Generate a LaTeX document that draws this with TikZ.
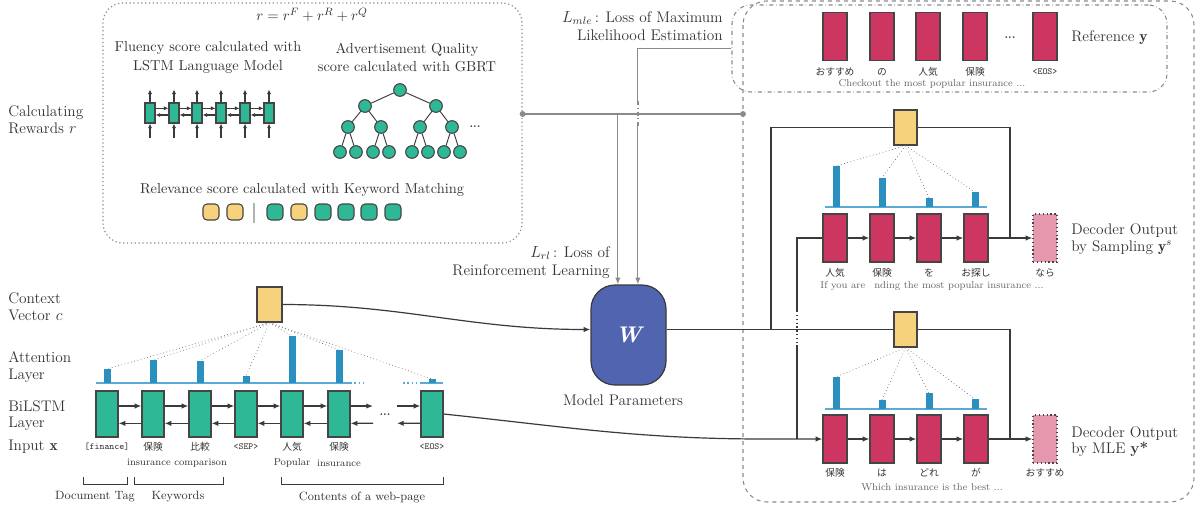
\documentclass[tikz,border=0pt]{standalone}
\usepackage{fontspec}
\usepackage{amsmath,amssymb}
\newfontfamily\jpfam{Noto Sans CJK JP}
\usetikzlibrary{arrows.meta,calc}
\definecolor{encgreen}{HTML}{2EB895}
\definecolor{cellborder}{HTML}{454545}
\definecolor{ybox}{HTML}{F6D27C}
\definecolor{crimson}{HTML}{CD3660}
\definecolor{pinkout}{HTML}{E597AD}
\definecolor{barblue}{HTML}{2A90C0}
\definecolor{baseblue}{HTML}{5AAAD6}
\definecolor{wblue}{HTML}{5064AF}
\definecolor{conncol}{HTML}{3A3A3A}
\definecolor{linegray}{HTML}{8A8A8A}
\definecolor{txtdark}{HTML}{333333}
\definecolor{txtgray}{HTML}{666666}
\newcommand\labfont{\fontsize{11.5}{12.5}\selectfont}
\newcommand\rwfont{\fontsize{10.8}{14}\selectfont}
\newcommand\smfont{\fontsize{7.5}{9}\selectfont}
\newcommand\jpfont{\jpfam\fontsize{7.3}{9}\selectfont}
\newcommand\ttsm{\ttfamily\fontsize{7}{8}\selectfont}
\newcommand\brfont{\fontsize{9}{10}\selectfont}
\begin{document}
\begin{tikzpicture}[x=0.75pt,y=-0.75pt,
  lab/.style={font=\labfont, text=txtdark, align=left, anchor=west, inner sep=0},
  rw/.style={font=\rwfont, text=txtdark, align=center, inner sep=0},
  sm/.style={font=\smfont, text=txtdark, inner sep=0},
  tr/.style={font=\smfont, text=txtgray, inner sep=0},
  jp/.style={font=\jpfont, text=txtdark, inner sep=0},
  tt/.style={font=\ttsm, text=txtdark, inner sep=0},
  br/.style={font=\brfont, text=txtdark, inner sep=0},
  enc/.style={draw=cellborder, fill=encgreen, line width=0.9pt, minimum width=16.5pt, minimum height=34.5pt, inner sep=0},
  lm/.style={draw=cellborder, fill=encgreen, line width=0.8pt, minimum width=7.5pt, minimum height=15pt, inner sep=0},
  dec/.style={draw=cellborder, fill=crimson, line width=0.9pt, minimum width=18pt, minimum height=36pt, inner sep=0},
  outbox/.style={draw=cellborder, fill=pinkout, dotted, line width=0.9pt, minimum width=18pt, minimum height=36pt, inner sep=0},
  ctx/.style={draw=cellborder, fill=ybox, line width=0.9pt, minimum width=17.25pt, minimum height=26.25pt, inner sep=0},
  tn/.style={circle, draw=cellborder, fill=encgreen, line width=0.8pt, minimum size=9.5pt, inner sep=0},
  kw/.style={draw=cellborder, line width=0.8pt, rounded corners=3pt, minimum size=12pt, inner sep=0},
  bar/.style={fill=barblue, inner sep=0, outer sep=0, minimum width=5.25pt, anchor=south},
  baseln/.style={draw=baseblue, line width=1.2pt},
  attn/.style={draw=black!60, dotted, line width=0.5pt},
  conn/.style={draw=conncol, line width=0.9pt},
  arr/.style={conn, -{Latex[length=5pt,width=4pt]}},
  smarr/.style={draw=conncol, line width=0.8pt, -{Latex[length=3.5pt,width=3.2pt]}},
  gline/.style={draw=linegray, line width=0.9pt},
  garr/.style={gline, -{Latex[length=5pt,width=4pt]}},
  dots/.style={font=\bfseries\fontsize{8}{8}\selectfont, text=txtdark, inner sep=0}
]
\useasboundingbox (0,0) rectangle (1199,508);

% ---------------- Rewards box ----------------
\node[draw=linegray, dotted, line width=0.9pt, rounded corners=15pt, minimum width=314.25pt, minimum height=180pt, inner sep=0] (rew) at (312.5,123) {};
\node[rw] at (312,15) {$r = r^{F} + r^{R} + r^{Q}$};
\node[rw] (flu) at (208,57.5) {Fluency score calculated with\\LSTM Language Model};
\node[rw] (adv) at (407,57.5) {Advertisement Quality\\score calculated with GBRT};
\node[rw] (rel) at (302,190) {Relevance score calculated with Keyword Matching};

% LSTM LM
\foreach \i/\x in {1/150,2/174,3/197,4/221,5/245,6/269}{
  \node[lm] (L\i) at (\x,113) {};
  \draw[smarr] (L\i.north) -- ++(0,-13);
  \draw[smarr] ($(L\i.south)+(0,14)$) -- (L\i.south);
}
\foreach \i/\j in {1/2,2/3,3/4,4/5,5/6}{
  \draw[smarr] ([yshift=3.5pt]L\i.east) -- ([yshift=3.5pt]L\j.west);
  \draw[smarr] ([yshift=-1.5pt]L\j.west) -- ([yshift=-1.5pt]L\i.east);
}

% GBRT tree
\node[tn] (t0) at (400,90) {};
\node[tn] (t1) at (365,106) {};
\node[tn] (t2) at (436,106) {};
\node[tn] (t3) at (348,127) {};
\node[tn] (t4) at (381,127) {};
\node[tn] (t5) at (420,127) {};
\node[tn] (t6) at (452,127) {};
\foreach \i/\x in {7/340,8/356,9/373,10/389,11/412,12/428,13/444,14/460}{
  \node[tn] (t\i) at (\x,152) {};
}
\foreach \a/\b in {0/1,0/2,1/3,1/4,2/5,2/6,3/7,3/8,4/9,4/10,5/11,5/12,6/13,6/14}{
  \draw[draw=conncol, line width=0.7pt] (t\a) -- (t\b);
}
\node[dots] (tdots) at (475,127) {...};

% keyword boxes
\foreach \n/\x/\c in {1/211/ybox,2/235/ybox,3/275/encgreen,4/299/ybox,5/323/encgreen,6/346/encgreen,7/369/encgreen,8/393/encgreen}{
  \node[kw, fill=\c] (k\n) at (\x,212) {};
}
\coordinate (sepT) at (254,203);
\coordinate (sepB) at (254,223);
\draw[draw=black!30, line width=0.8pt] (sepT) -- (sepB);

% ---------------- Left labels ----------------
\node[lab] (lcr) at (8,120) {Calculating\\Rewards $r$};
\node[lab] (lcv) at (8,307) {Context\\Vector $c$};
\node[lab] (lat) at (8,367) {Attention\\Layer};
\node[lab] (lbi) at (8,415.5) {BiLSTM\\Layer};
\node[lab] (lin) at (8,447) {Input $\mathbf{x}$};

% ---------------- Encoder ----------------
\foreach \i/\x in {1/107,2/153,3/200,4/246,5/292,6/339,7/432}{
  \node[enc] (e\i) at (\x,414) {};
}
\foreach \i/\j in {1/2,2/3,3/4,4/5,5/6}{
  \draw[arr] ([yshift=6pt]e\i.east) -- ([yshift=6pt]e\j.west);
  \draw[arr] ([yshift=-7pt]e\j.west) -- ([yshift=-7pt]e\i.east);
}
\coordinate (d1) at (373,406);
\coordinate (d1b) at (373,423.3);
\coordinate (d2) at (397,406);
\coordinate (d2b) at (397,423.3);
\draw[arr] ([yshift=6pt]e6.east) -- (d1);
\draw[arr] (d1b) -- ([yshift=-7pt]e6.east);
\draw[arr] (d2) -- ([yshift=6pt]e7.west);
\draw[arr] ([yshift=-7pt]e7.west) -- (d2b);
\node[dots] (edots) at (385,415) {...};

% attention bars encoder
\draw[baseln] (96,383) -- (350,383);
\draw[baseln, dotted] (350,383) -- (367,383);
\draw[baseln, dotted] (403,383) -- (420,383);
\draw[baseln] (420,383) -- (443,383);
\node[bar, minimum height=10.5pt] (a1) at (107,383) {};
\node[bar, minimum height=17.25pt] (a2) at (153,383) {};
\node[bar, minimum height=16.5pt] (a3) at (200,383) {};
\node[bar, minimum height=5.25pt] (a4) at (246,383) {};
\node[bar, minimum height=35.25pt] (a5) at (292,383) {};
\node[bar, minimum height=24.75pt] (a6) at (339,383) {};
\node[bar, minimum height=3pt] (a7) at (432,383) {};

\node[ctx, minimum width=18.75pt] (cv) at (269.5,304.5) {};
\foreach \i in {1,...,7}{ \draw[attn] (cv.south) -- (a\i.north); }

% input labels
\node[tt] at (107,447) {[finance]};
\node[jp] at (153,447) {保険};
\node[jp] at (200,447) {比較};
\node[tt] at (246,447) {<SEP>};
\node[jp] at (292,447) {人気};
\node[jp] at (339,447) {保険};
\node[tt] at (432,447) {<EOS>};
\node[sm] at (177,463) {insurance comparison};
\node[sm] at (292,463) {Popular};
\node[sm] at (339,463) {insurance};

% brackets
\draw[draw=conncol, line width=0.7pt] (83,477) -- (83,484) -- (127,484) -- (127,477);
\draw[draw=conncol, line width=0.7pt] (134,477) -- (134,484) -- (223,484) -- (223,477);
\draw[draw=conncol, line width=0.7pt] (281,477) -- (281,484) -- (443,484) -- (443,477);
\node[br] at (95,497) {Document Tag};
\node[br] at (178,497) {Keywords};
\node[br] at (362,497) {Contents of a web-page};

% ---------------- Model parameters ----------------
\node[draw=conncol, fill=wblue, line width=0.9pt, rounded corners=18pt, minimum width=56.25pt, minimum height=75pt, inner sep=0,
  font=\bfseries\itshape\fontsize{17}{17}\selectfont, text=white] (W) at (628.5,335) {W};
\node[font=\labfont, text=txtdark, inner sep=0] (mp) at (623,400) {Model Parameters};

% ---------------- Right dashed box ----------------
\draw[draw=linegray, dashed, line width=0.8pt, rounded corners=18pt] (743,1) rectangle (1194,502);

% reference
\node[draw=linegray, dash dot, line width=0.8pt, rounded corners=14pt, minimum width=326.25pt, minimum height=65.25pt, inner sep=0] (ref) at (949.5,48.5) {};
\foreach \i/\x in {1/835,2/882,3/928,4/975,5/1045}{
  \node[dec] (r\i) at (\x,36.5) {};
}
\node[dots] (rdots) at (1010,38) {...};
\node[jp] at (835,72) {おすすめ};
\node[jp] at (882,72) {の};
\node[jp] at (928,72) {人気};
\node[jp] at (975,72) {保険};
\node[tt] at (1045,72) {<EOS>};
\node[tr] at (932,84) {Checkout the most popular insurance ...};
\node[lab] (lref) at (1071,38) {Reference $\mathbf{y}$};

% sampling decoder
\node[ctx] (sy) at (905.5,127.5) {};
\draw[baseln] (825,207) -- (987,207);
\node[bar, minimum height=30.75pt] (sb1) at (836,207) {};
\node[bar, minimum height=21.75pt] (sb2) at (882,207) {};
\node[bar, minimum height=6.75pt] (sb3) at (929,207) {};
\node[bar, minimum height=11.25pt] (sb4) at (975,207) {};
\foreach \i in {1,...,4}{ \draw[attn] (sy.south) -- (sb\i.north); }
\foreach \i/\x in {1/835,2/882,3/929,4/976}{
  \node[dec] (s\i) at (\x,238) {};
}
\node[outbox] (so) at (1045,238) {};
\foreach \i/\j in {1/2,2/3,3/4}{ \draw[arr] (s\i) -- (s\j); }
\draw[arr] (s4) -- (so);
\node[jp] at (835,273) {人気};
\node[jp] at (882,273) {保険};
\node[jp] at (929,273) {を};
\node[jp] at (976,273) {お探し};
\node[jp] at (1045,273) {なら};
\node[tr] at (932,286) {If you are\hspace{0.9em}nding the most popular insurance ...};
\node[lab] (lsamp) at (1071,239) {Decoder Output\\by Sampling $\mathbf{y}^{s}$};

% MLE decoder
\node[ctx] (my) at (905.5,329.5) {};
\draw[baseln] (825,409) -- (987,409);
\node[bar, minimum height=24pt] (mb1) at (836,409) {};
\node[bar, minimum height=6.75pt] (mb2) at (882,409) {};
\node[bar, minimum height=12pt] (mb3) at (929,409) {};
\node[bar, minimum height=7.5pt] (mb4) at (975,409) {};
\foreach \i in {1,...,4}{ \draw[attn] (my.south) -- (mb\i.north); }
\foreach \i/\x in {1/835,2/882,3/929,4/976}{
  \node[dec] (m\i) at (\x,439) {};
}
\node[outbox] (mo) at (1045,439) {};
\foreach \i/\j in {1/2,2/3,3/4}{ \draw[arr] (m\i) -- (m\j); }
\draw[arr] (m4) -- (mo);
\node[jp] at (835,473) {保険};
\node[jp] at (882,473) {は};
\node[jp] at (929,473) {どれ};
\node[jp] at (976,473) {が};
\node[jp] at (1045,473) {おすすめ};
\node[tr] at (932,487) {Which insurance is the best ...};
\node[lab] (lmle) at (1071,441.5) {Decoder Output\\by MLE \textbf{y*}};

% ---------------- Connectors ----------------
% context vector -> W
\draw[arr] (cv.east) to[out=0,in=180] (W.west |- my.west);
% encoder -> MLE decoder
\coordinate (sin) at (797,439);
\coordinate (mj0) at (765,439);
\draw[arr] (e7.east) to[out=-6,in=180] (mj0) -- (m1.west);
% sampling input
\draw[conn] (sin) |- (s1.west);
\draw[draw=white, line width=2pt] (797,311) -- (797,345);
\draw[conn, dotted] (797,311) -- (797,345);
% W -> decoders
\coordinate (b1) at (771,329.5);
\draw[conn] (W.east |- my.west) -- (my.west);
\draw[conn] (b1) |- (sy.west);
\coordinate (sj) at (1010,238);
\coordinate (mj) at (1010,439);
\draw[conn] (sy.east) -| (sj);
\draw[conn] (my.east) -| (mj);

% losses
\coordinate (rA) at (rew.east |- 0,114);
\coordinate (rB) at (743,114);
\coordinate (lrl) at ([xshift=-8pt]W.north |- rA);
\draw[garr] (lrl) -- ([xshift=-8pt]W.north);
\draw[garr] (ref.west) -| ([xshift=7pt]W.north);
\draw[draw=white, line width=2pt] (638,101) -- (638,126);
\draw[gline, dash dot] (638,101) -- (638,126);
\draw[gline] (rA) -- (rB);
\fill[linegray] (rA) circle (2.2pt);
\fill[linegray] (rB) circle (2.2pt);
\node[font=\labfont, text=txtdark, align=right, anchor=east, inner sep=0] (lmletxt) at (723,26) {$L_{mle}$\,: Loss of Maximum\\[1pt]Likelihood Estimation};
\node[font=\labfont, text=txtdark, align=right, anchor=east, inner sep=0] (lrltxt) at (610,262.5) {$L_{rl}$\,: Loss of\\[1pt]Reinforcement Learning};
\end{tikzpicture}
\end{document}
